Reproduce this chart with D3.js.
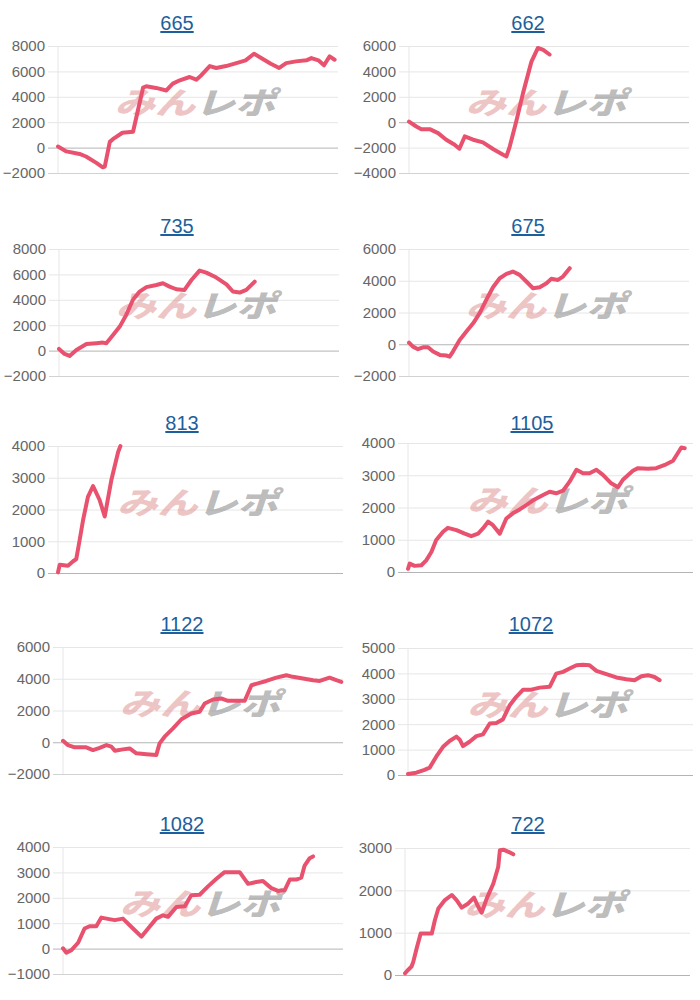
<!DOCTYPE html>
<html><head><meta charset="utf-8">
<script src="https://cdn.jsdelivr.net/npm/d3@7"></script>
<style>
html,body{margin:0;padding:0;background:#fff;}
svg{display:block;}
</style></head>
<body>
<svg id="chart" width="700" height="1000"></svg>
<script>
// ---- DATA ----
const titles = ["665","662","735","675","813","1105","1122","1072","1082","722"];
// [step (0-100 of session), diff value]
const d665 = [[0,80],[3,-300],[7.7,-500],[10,-700],[13.7,-1200],[16,-1550],[16.7,-1500],[18.5,450],[20,730],[23,1170],[26.8,1250],[30.4,4730],[31.5,4830],[35,4700],[38.7,4500],[41,5040],[43.5,5300],[47,5560],[49.4,5350],[51.2,5700],[54.2,6420],[56.5,6270],[60,6420],[63.7,6650],[67,6870],[70,7390],[73,7000],[76,6600],[79,6270],[81.5,6650],[85,6790],[88.7,6870],[90.5,7050],[93,6870],[95,6480],[97,7180],[98.8,6920]];
const d662 = [[0,50],[2.6,-340],[4.4,-550],[7.4,-550],[10.4,-860],[13.3,-1380],[16.3,-1780],[18,-2090],[19.9,-1120],[22.9,-1380],[26.4,-1590],[30,-2110],[33.6,-2560],[34.8,-2690],[36,-1900],[38.3,50],[40.7,2270],[43.7,4750],[46,5840],[47.8,5720],[50.2,5330]];
const d735 = [[0,130],[2,-260],[3.8,-420],[6.2,50],[9.8,520],[13.3,580],[15.7,630],[16.9,580],[19.3,1230],[21.7,1890],[24,2810],[26.4,4000],[28.8,4650],[31.2,5000],[34.8,5170],[37.1,5300],[39.5,5040],[41.9,4830],[44.8,4780],[47.3,5560],[50.2,6300],[52.6,6140],[56.2,5750],[59.8,5220],[62.1,4650],[64.5,4570],[66.9,4780],[69.9,5430]];
const d675 = [[0,100],[1.4,-150],[3.2,-310],[5,-190],[6.8,-190],[8.6,-460],[11,-670],[13.3,-710],[14.5,-780],[15.7,-460],[18.1,270],[20.5,800],[22.9,1320],[25.2,1950],[27.6,2790],[30,3590],[32.4,4160],[34.8,4430],[37.1,4580],[39.5,4370],[41.9,3950],[44.3,3530],[46.7,3590],[49.1,3840],[50.8,4120],[53.2,4050],[55,4260],[57.4,4790]];
const d813 = [[0,20],[0.6,260],[3.5,230],[5.3,370],[6.4,440],[7.6,1040],[8.8,1670],[10.5,2400],[12.3,2740],[14.6,2300],[16.4,1780],[18.7,2920],[21.1,3810],[21.9,4000]];
const d1105 = [[0,100],[0.6,260],[2.3,190],[4.7,210],[6.4,360],[8.2,620],[9.9,990],[12.3,1250],[14,1370],[17,1300],[19.9,1190],[22.2,1110],[24.6,1190],[26.3,1350],[28.1,1560],[29.8,1450],[32.2,1190],[34.5,1660],[36.8,1820],[39.2,1940],[42.1,2110],[44.4,2250],[47.4,2390],[49.7,2490],[52,2440],[54.4,2520],[56.7,2800],[59.1,3170],[61.4,3060],[63.7,3060],[66.1,3170],[68.4,3010],[71.3,2750],[73.7,2630],[75.4,2860],[78.9,3140],[80.7,3220],[84.2,3200],[87.1,3220],[90.1,3320],[93,3450],[94.7,3690],[95.9,3860],[97.1,3840]];
const d1122 = [[0,90],[1.8,-180],[4.2,-320],[8.3,-320],[10.7,-490],[13.1,-350],[15.5,-180],[17.3,-280],[18.5,-530],[21.4,-450],[23.8,-390],[26.2,-700],[29.8,-760],[33.3,-810],[34.5,-70],[36.3,350],[39.3,870],[42.3,1450],[45.8,1810],[48.8,1920],[50.6,2440],[53.6,2690],[56.5,2760],[58.9,2610],[61.9,2610],[64.9,2610],[67.3,3590],[70.2,3740],[72.6,3860],[76.2,4070],[79.8,4220],[82.1,4120],[85.7,4010],[89.3,3910],[91.7,3860],[95.2,4070],[97.6,3910],[99.4,3800]];
const d1072 = [[0,40],[2.9,90],[5.8,200],[7.6,290],[9.9,720],[12.3,1110],[14.6,1340],[17,1510],[18.1,1400],[19.3,1140],[21.6,1310],[24,1530],[26.3,1600],[28.7,2030],[31,2050],[33.3,2190],[35.7,2750],[38,3080],[40.4,3360],[43.3,3360],[46.2,3440],[49.7,3470],[52,3990],[54.4,4060],[56.7,4190],[59.1,4320],[61.4,4340],[63.7,4320],[66.1,4100],[69.6,3970],[73.1,3840],[76.6,3770],[79.5,3730],[81.9,3890],[84.2,3930],[86.5,3860],[88.3,3730]];
const d1082 = [[0,10],[1.2,-160],[3,-60],[5.4,230],[7.7,790],[9.5,880],[11.9,880],[13.7,1220],[15.5,1180],[18.5,1120],[21.4,1180],[25,790],[28,470],[30.4,790],[33.3,1180],[35.7,1310],[37.5,1250],[40.5,1640],[43.5,1670],[45.8,2100],[48.8,2120],[51.8,2450],[54.8,2750],[57.7,3010],[60.7,3010],[63.1,3010],[66.1,2550],[69,2620],[71.4,2660],[74.4,2380],[76.8,2270],[79.2,2300],[81,2720],[83.3,2720],[85.1,2790],[86.3,3270],[88.1,3560],[89.3,3630]];
const d722 = [[0,40],[0.8,100],[2.3,200],[2.9,310],[4.1,630],[5.5,980],[7.6,980],[9.4,980],[10.5,1300],[11.7,1570],[14,1770],[16.4,1890],[18.1,1770],[19.9,1590],[22.2,1690],[24.2,1830],[25.7,1610],[26.9,1470],[28.7,1810],[31,2160],[32.7,2550],[33.3,2950],[34.5,2960],[36.3,2910],[38,2850]];
const series = [d665,d662,d735,d675,d813,d1105,d1122,d1072,d1082,d722];

const ticks665 = [-2000,0,2000,4000,6000,8000];
const ticks662 = [-4000,-2000,0,2000,4000,6000];
const ticks735 = [-2000,0,2000,4000,6000,8000];
const ticks675 = [-2000,0,2000,4000,6000];
const ticks813 = [0,1000,2000,3000,4000];
const ticks1105 = [0,1000,2000,3000,4000];
const ticks1122 = [-2000,0,2000,4000,6000];
const ticks1072 = [0,1000,2000,3000,4000,5000];
const ticks1082 = [-1000,0,1000,2000,3000,4000];
const ticks722 = [0,1000,2000,3000];
const tickSets = [ticks665,ticks662,ticks735,ticks675,ticks813,ticks1105,ticks1122,ticks1072,ticks1082,ticks722];

const stepDomain = [0,100];

// ---- LAYOUT (pixel boxes of each panel's plot area) ----
const layout = [
  {l:58,r:338,t:46,b:173,tx:177,ty:30},
  {l:409,r:689,t:46,b:173,tx:528,ty:30},
  {l:59,r:339,t:249,b:376,tx:177,ty:233},
  {l:409,r:689,t:249,b:376,tx:528,ty:233},
  {l:58,r:343,t:446,b:573,tx:182,ty:430},
  {l:408,r:693,t:443,b:572,tx:532,ty:430},
  {l:63,r:343,t:647,b:774,tx:182,ty:631},
  {l:408,r:693,t:648,b:775,tx:531,ty:631},
  {l:63,r:343,t:847,b:974,tx:182,ty:831},
  {l:405,r:690,t:848,b:975,tx:528,ty:831}
];

const svg = d3.select("#chart");
const font = "'Liberation Sans', Arial, sans-serif";

titles.forEach((title, i) => {
  const L = layout[i];
  const ticks = tickSets[i];
  const x = d3.scaleLinear().domain(stepDomain).range([L.l, L.r]);
  const y = d3.scaleLinear().domain(d3.extent(ticks)).range([L.b, L.t]);
  const g = svg.append("g");

  // title (link style)
  g.append("text")
    .attr("x", L.tx).attr("y", L.ty)
    .attr("text-anchor", "middle")
    .attr("font-family", font).attr("font-size", 20)
    .attr("fill", "#1d5f9c")
    .attr("text-decoration", "underline")
    .text(title);

  // y axis with gridlines
  const axis = d3.axisLeft(y).tickValues(ticks)
    .tickSize(-(L.r - L.l)).tickPadding(13).tickFormat(d3.format("d"));
  const ag = g.append("g").attr("transform", `translate(${L.l},0)`).call(axis);
  ag.select(".domain").remove();
  ag.selectAll(".tick line")
    .attr("x1", -10)
    .attr("stroke", d => d === 0 ? "#b4b4b4" : (d === ticks[0] ? "#d2d2d2" : "#e6e6e6"))
    .attr("stroke-width", 1);
  ag.selectAll(".tick text")
    .attr("font-family", font).attr("font-size", 15).attr("fill", "#666");
  // vertical left axis line
  g.append("line")
    .attr("x1", L.l).attr("x2", L.l).attr("y1", L.t).attr("y2", L.b)
    .attr("stroke", "#e6e6e6");

  // watermark
  const cx = (L.l + L.r) / 2, cy = (L.t + L.b) / 2 - 7;
  const wm = g.append("g").attr("transform", `translate(${cx - 3},${cy + 11}) scale(1.18,0.9) skewX(-14)`);
  const wt = wm.append("text").attr("text-anchor", "middle")
    .attr("font-family", "'Noto Sans CJK JP', sans-serif").attr("font-weight", 900)
    .attr("font-size", 34);
  wt.append("tspan").attr("fill", "rgba(221,140,140,0.5)").text("みん");
  wt.append("tspan").attr("fill", "rgba(150,150,150,0.65)").text("レポ");

  // line
  const line = d3.line().x(d => x(d[0])).y(d => y(d[1]));
  g.append("path").datum(series[i])
    .attr("d", line)
    .attr("fill", "none")
    .attr("stroke", "#e8526f")
    .attr("stroke-width", 4)
    .attr("stroke-linejoin", "round")
    .attr("stroke-linecap", "round");
});
</script>
</body></html>
